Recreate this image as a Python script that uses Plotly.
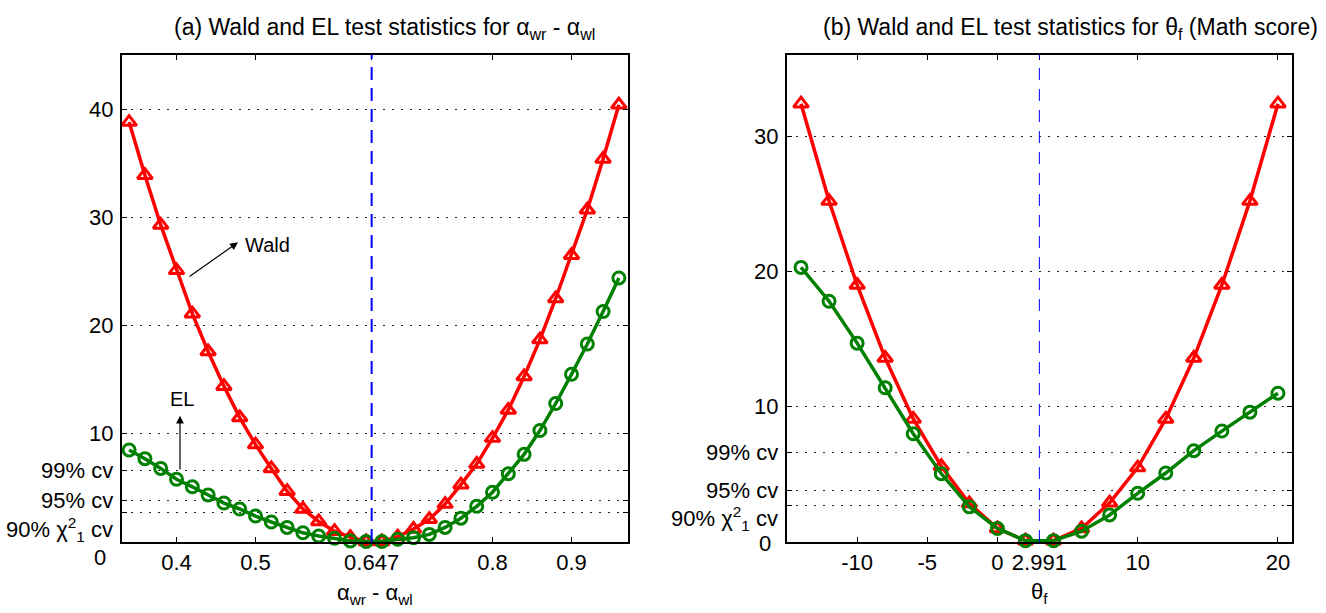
import plotly.graph_objects as go

# ---- (a) alpha_wr - alpha_wl ----
alpha_x = [0.34, 0.36, 0.38, 0.40, 0.42, 0.44, 0.46, 0.48, 0.50, 0.52, 0.54,
           0.56, 0.58, 0.60, 0.62, 0.64, 0.66, 0.68, 0.70, 0.72, 0.74, 0.76,
           0.78, 0.80, 0.82, 0.84, 0.86, 0.88, 0.90, 0.92, 0.94, 0.96]
wald_alpha = [38.8, 33.9, 29.3, 25.1, 21.1, 17.6, 14.4, 11.5, 9.0, 6.8, 4.7,
              3.05, 1.9, 1.0, 0.45, 0.05, 0.05, 0.5, 1.2, 2.1, 3.5, 5.3,
              7.2, 9.6, 12.2, 15.3, 18.7, 22.5, 26.5, 30.7, 35.4, 40.4]
el_alpha = [8.5, 7.7, 6.8, 5.8, 5.1, 4.35, 3.6, 3.05, 2.4, 1.85, 1.35,
            0.85, 0.55, 0.35, 0.1, 0.05, 0.05, 0.25, 0.4, 0.7, 1.35, 2.2,
            3.3, 4.6, 6.3, 8.1, 10.3, 12.8, 15.5, 18.3, 21.3, 24.4]
alpha_hat = 0.647
alpha_ticks = [0.4, 0.5, alpha_hat, 0.8, 0.9]
alpha_ticktext = ["0.4", "0.5", "0.647", "0.8", "0.9"]

# ---- (b) theta_f (Math score) ----
theta_x = [-14, -12, -10, -8, -6, -4, -2, 0, 2, 4, 6, 8, 10, 12, 14, 16, 18, 20]
wald_theta = [32.4, 25.2, 19.0, 13.6, 9.1, 5.6, 2.85, 1.0, 0.1, 0.1, 1.0, 2.9,
              5.5, 9.1, 13.6, 19.0, 25.2, 32.4]
el_theta = [20.3, 17.8, 14.7, 11.4, 8.0, 5.05, 2.6, 1.0, 0.1, 0.1, 0.8, 2.0,
            3.6, 5.1, 6.75, 8.2, 9.6, 11.0]
theta_hat = 2.991
theta_ticks = [-10, -5, 0, theta_hat, 10, 20]
theta_ticktext = ["-10", "-5", "0", "2.991", "10", "20"]

# chi-square(1) critical values and the y tick labels
cv = [2.706, 3.841, 6.635]
cv_labels = ["90% \u03c7<sup>2</sup><sub>1</sub> cv", "95% cv", "99% cv"]
left_major = [10, 20, 30, 40]
right_major = [10, 20, 30]

RED = "#ff0000"
GREEN = "#008000"
BLUE = "#0000ff"
FONT = "Liberation Sans, Arial, sans-serif"

W, H = 1326, 613
def px_x(p):
    return p / W
def px_y(p):
    return 1 - p / H

ydom = [px_y(542), px_y(55)]

fig = go.Figure()

def add_pair(x, wald, el, xa, ya):
    fig.add_trace(go.Scatter(
        x=x, y=wald, mode="lines+markers", xaxis=xa, yaxis=ya, cliponaxis=False,
        line=dict(color=RED, width=3.5),
        marker=dict(symbol="triangle-up-open", size=13, color=RED,
                    line=dict(color=RED, width=3))))
    fig.add_trace(go.Scatter(
        x=x, y=el, mode="lines+markers", xaxis=xa, yaxis=ya, cliponaxis=False,
        line=dict(color=GREEN, width=3.5),
        marker=dict(symbol="circle-open", size=12, color=GREEN,
                    line=dict(color=GREEN, width=3))))

add_pair(alpha_x, wald_alpha, el_alpha, "x", "y")
add_pair(theta_x, wald_theta, el_theta, "x2", "y2")

axis_common = dict(showline=True, linecolor="black", linewidth=2, mirror="ticks",
                   ticks="inside", ticklen=5, tickcolor="black", tickwidth=1,
                   zeroline=False)
xcommon = dict(axis_common, showgrid=False, ticklabelstandoff=0,
               tickfont=dict(family=FONT, size=22, color="black"))
ycommon = dict(axis_common, showgrid=True, gridcolor="#222222", gridwidth=1,
               griddash="1.5px,7.5px", showticklabels=False)

fig.update_layout(
    width=W, height=H, margin=dict(l=0, r=0, t=0, b=0),
    paper_bgcolor="white", plot_bgcolor="white", showlegend=False,
    font=dict(family=FONT, size=22, color="black"),
    xaxis=dict(xcommon, domain=[px_x(122), px_x(628)], range=[0.331, 0.9715],
               tickvals=alpha_ticks, ticktext=alpha_ticktext, anchor="y"),
    yaxis=dict(ycommon, domain=ydom, range=[0, 45],
               tickvals=[0] + cv + left_major, anchor="x"),
    xaxis2=dict(xcommon, domain=[px_x(787), px_x(1292)], range=[-15, 21],
                tickvals=theta_ticks, ticktext=theta_ticktext, anchor="y2"),
    yaxis2=dict(ycommon, domain=ydom, range=[0, 36],
                tickvals=[0] + cv + right_major, anchor="x2"),
)

# estimate markers
fig.add_shape(type="line", xref="x", yref="y domain", x0=alpha_hat, x1=alpha_hat,
              y0=0, y1=1, line=dict(color=BLUE, width=2, dash="13px,8px"))
fig.add_shape(type="line", xref="x2", yref="y2 domain", x0=theta_hat, x1=theta_hat,
              y0=0, y1=1, line=dict(color=BLUE, width=1, dash="12px,9px"))

ann = []
def ylabel(text, val, axis, yshift=0, xshift=-7):
    ann.append(dict(text=text, xref=axis[0] + " domain", x=0, xanchor="right",
                    yref=axis[1], y=val, yanchor="middle", showarrow=False,
                    xshift=xshift, yshift=yshift,
                    font=dict(family=FONT, size=22, color="black")))

# left y labels
ylabel("0", 0, ("x", "y"), yshift=-15, xshift=-14)
ylabel(cv_labels[0], cv[0], ("x", "y"), yshift=-17)
ylabel(cv_labels[1], cv[1], ("x", "y"))
ylabel(cv_labels[2], cv[2], ("x", "y"))
for v in left_major:
    ylabel(str(v), v, ("x", "y"))
# right y labels
ylabel("0", 0, ("x2", "y2"), yshift=-1, xshift=-14)
ylabel(cv_labels[0], cv[0], ("x2", "y2"), yshift=-13)
ylabel(cv_labels[1], cv[1], ("x2", "y2"))
ylabel(cv_labels[2], cv[2], ("x2", "y2"))
for v in right_major:
    ylabel(str(v), v, ("x2", "y2"))

# titles
ann.append(dict(text="(a) Wald and EL test statistics for \u03b1<sub>wr</sub> - \u03b1<sub>wl</sub>",
                xref="paper", yref="paper", x=px_x(384), y=px_y(29), xanchor="center",
                yanchor="middle", showarrow=False, font=dict(family=FONT, size=23)))
ann.append(dict(text="(b) Wald and EL test statistics for \u03b8<sub>f</sub> (Math score)",
                xref="paper", yref="paper", x=px_x(1070), y=px_y(29), xanchor="center",
                yanchor="middle", showarrow=False, font=dict(family=FONT, size=23)))
# axis titles
ann.append(dict(text="\u03b1<sub>wr</sub> - \u03b1<sub>wl</sub>", xref="paper", yref="paper",
                x=px_x(375), y=px_y(594), xanchor="center", yanchor="middle",
                showarrow=False, font=dict(family=FONT, size=22)))
ann.append(dict(text="\u03b8<sub>f</sub>", xref="paper", yref="paper",
                x=px_x(1039), y=px_y(593), xanchor="center", yanchor="middle",
                showarrow=False, font=dict(family=FONT, size=22)))

# series call-outs
ann.append(dict(text="", xref="x", yref="y", x=0.4778, y=27.69, axref="x", ayref="y",
                ax=0.4146, ay=24.44, showarrow=True, arrowhead=2, arrowsize=1.3,
                arrowwidth=1.2, arrowcolor="black", standoff=0, startstandoff=0))
ann.append(dict(text="Wald", xref="x", yref="y", x=0.5158, y=27.4, xanchor="center",
                yanchor="middle", showarrow=False, font=dict(family=FONT, size=20)))
ann.append(dict(text="", xref="x", yref="y", x=0.4044, y=11.67, axref="x", ayref="y",
                ax=0.4044, ay=6.57, showarrow=True, arrowhead=2, arrowsize=1.3,
                arrowwidth=1.2, arrowcolor="black", standoff=0, startstandoff=0))
ann.append(dict(text="EL", xref="x", yref="y", x=0.4070, y=13.24, xanchor="center",
                yanchor="middle", showarrow=False, font=dict(family=FONT, size=20)))

fig.update_layout(annotations=ann)

fig.write_html("out.html")
